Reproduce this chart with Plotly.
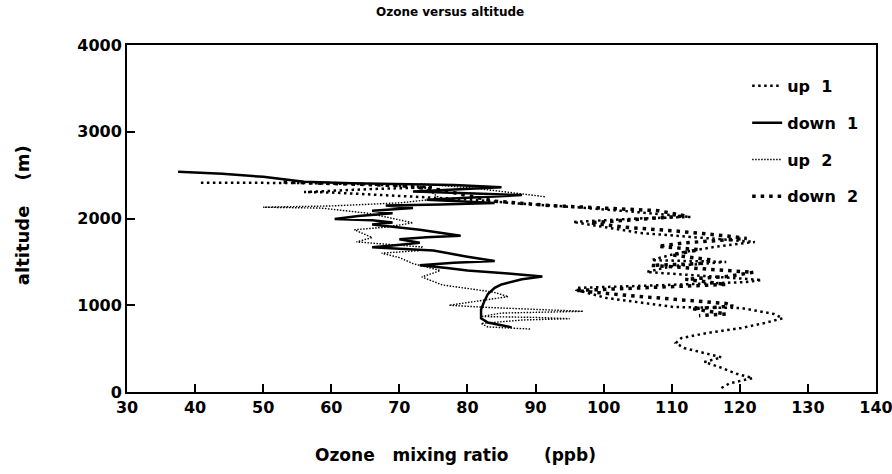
import plotly.graph_objects as go

# ---------------- data (ppb, m) ----------------
up1_x = [117.3, 118.5, 121.9, 119.5, 117.0, 114.8, 117.3, 114.0, 111.8, 110.6, 111.4, 115.2, 120.2, 123.6,
         126.3, 125.0, 120.2, 110.3, 100.4, 96.0, 96.0, 108.0, 121.0, 123.2, 106.3, 110.0, 118.0, 107.0,
         110.8, 116.2, 122.2, 105.4, 95.5, 105.0, 112.8, 104.0, 95.5, 88.0, 80.0, 70.0, 60.0, 56.0,
         66.0, 75.0, 65.0, 55.0, 48.0, 40.5]
up1_y = [46, 100, 161, 210, 288, 346, 400, 461, 507, 565, 622, 680, 738, 795,
         850, 900, 968, 980, 1084, 1176, 1200, 1230, 1268, 1291, 1384, 1450, 1500, 1520,
         1600, 1672, 1730, 1833, 1960, 2000, 2018, 2080, 2133, 2170, 2220, 2260, 2300, 2305,
         2340, 2360, 2395, 2410, 2410, 2412]

down1_x = [37.5, 44, 50, 56, 63, 70, 78, 85, 78, 72, 80, 88, 80, 74, 84, 76, 68, 72, 66, 69, 64, 60.5,
           66, 69, 66, 70, 73, 79, 74, 70, 73, 69, 66, 70, 75, 80, 84, 78, 73, 77, 80, 86, 91, 88,
           85, 84, 83, 82.5, 82, 82, 83, 85, 86.5]
down1_y = [2540, 2515, 2480, 2425, 2405, 2395, 2385, 2360, 2330, 2310, 2290, 2270, 2240, 2215, 2180,
           2160, 2150, 2120, 2090, 2060, 2030, 1995, 1980, 1955, 1930, 1900, 1870, 1800, 1785, 1760,
           1720, 1690, 1670, 1650, 1630, 1560, 1510, 1490, 1460, 1430, 1400, 1365, 1330, 1300, 1240,
           1200, 1130, 1050, 950, 850, 800, 770, 745]

up2_x = [89.2, 86, 83, 82, 88, 95, 90, 82, 85, 97, 90, 83, 77.3, 82, 86, 83.7, 81.8, 76.3, 73.3,
         76, 72, 70, 67.4, 73, 73.3, 68, 63.7, 66, 63.4, 68, 72, 65.5, 58.5, 50, 60, 70, 76, 73,
         81, 91.5]
up2_y = [726, 735, 750, 790, 830, 845, 860, 870, 910, 930, 950, 975, 1000, 1050, 1100, 1153, 1176,
         1234, 1326, 1400, 1480, 1550, 1600, 1630, 1672, 1700, 1730, 1780, 1870, 1900, 1950, 2060,
         2120, 2130, 2145, 2180, 2230, 2400, 2350, 2250]

down2_x = [53, 62, 70, 76, 84, 92, 100, 108, 112, 104, 98, 103, 110, 118, 121, 112, 108, 114, 110,
           116, 114, 107, 115, 122, 118, 112, 118, 108, 100, 96, 104, 112, 118, 119, 113, 118, 114]
down2_y = [2420, 2400, 2380, 2330, 2200, 2150, 2120, 2090, 2030, 1980, 1950, 1900, 1860, 1800, 1770,
           1720, 1680, 1640, 1580, 1520, 1480, 1460, 1420, 1380, 1330, 1300, 1240, 1210, 1190, 1170,
           1110, 1060, 1020, 990, 960, 900, 880]

x_ticks = [30, 40, 50, 60, 70, 80, 90, 100, 110, 120, 130, 140]
y_ticks = [0, 1000, 2000, 3000, 4000]

FONT = "DejaVu Sans"
NB = "\u00a0"

fig = go.Figure()
fig.add_trace(go.Scatter(x=up1_x, y=up1_y, mode="lines", name="up" + NB * 2 + "1", legendgroup="a",
                         line=dict(color="black", width=2.5, dash="2.5px,3.5px")))
fig.add_trace(go.Scatter(x=down1_x, y=down1_y, mode="lines", name="down" + NB * 2 + "1", legendgroup="b",
                         line=dict(color="black", width=2.5)))
fig.add_trace(go.Scatter(x=up2_x, y=up2_y, mode="lines", name="up" + NB * 2 + "2", legendgroup="c",
                         line=dict(color="black", width=1.4, dash="1.5px,1.5px")))
fig.add_trace(go.Scatter(x=down2_x, y=down2_y, mode="lines", name="down" + NB * 2 + "2", legendgroup="d",
                         line=dict(color="black", width=3.5, dash="3.5px,5px")))

fig.update_layout(
    width=892, height=474, autosize=False,
    margin=dict(l=127, r=16, t=45, b=82, autoexpand=False),
    paper_bgcolor="white", plot_bgcolor="white",
    font=dict(family=FONT, color="black", size=14, weight="bold"),
    showlegend=True,
    legend=dict(x=0.828, y=0.931, xanchor="left", yanchor="top", bgcolor="rgba(0,0,0,0)",
                font=dict(family=FONT, size=16, weight="bold"),
                traceorder="grouped", tracegroupgap=13, itemwidth=30),
    annotations=[
        dict(text="Ozone versus altitude", x=0.431, y=1.095, xref="paper", yref="paper",
             showarrow=False, xanchor="center", yanchor="middle",
             font=dict(size=12, weight="bold")),
        dict(text="Ozone" + NB * 3 + "mixing ratio" + NB * 6 + "(ppb)", x=0.438, y=-0.1816,
             xref="paper", yref="paper", showarrow=False, font=dict(size=17, weight="bold"),
             xanchor="center", yanchor="middle"),
        dict(text="altitude" + NB * 4 + "(m)", x=-0.140, y=0.51, xref="paper", yref="paper",
             showarrow=False, textangle=-90, font=dict(size=18, weight="bold"),
             xanchor="center", yanchor="middle"),
    ],
)

fig.update_xaxes(range=[30, 140], tickvals=x_ticks, ticktext=[str(v) for v in x_ticks],
                 showgrid=False, zeroline=False, showline=True, linecolor="black", linewidth=2,
                 mirror=True, ticks="inside", ticklen=8, tickwidth=2, tickcolor="black",
                 ticklabeloverflow="allow", automargin=False,
                 tickfont=dict(size=16, weight="bold"))
fig.update_yaxes(range=[0, 4000], tickvals=y_ticks, ticktext=[str(v) for v in y_ticks],
                 showgrid=False, zeroline=False, showline=True, linecolor="black", linewidth=2,
                 mirror=True, ticks="inside", ticklen=8, tickwidth=2, tickcolor="black",
                 ticklabeloverflow="allow", automargin=False,
                 tickfont=dict(size=16, weight="bold"))

fig.write_html("out.html", config={"displayModeBar": False},
               post_script="document.body.style.margin='0px';document.body.style.overflow='hidden';")
